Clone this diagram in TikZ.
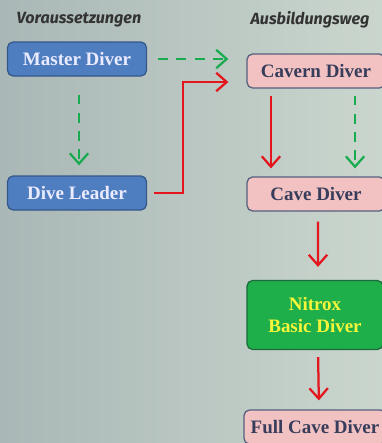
\documentclass[tikz,border=0pt]{standalone}
\usepackage{fontspec}
\setmainfont{Liberation Serif}
\setsansfont{Fira Sans}
\usetikzlibrary{arrows.meta}

\definecolor{bgleft}{HTML}{A9B7B6}
\definecolor{bgright}{HTML}{CAD6CD}
\definecolor{prefill}{HTML}{4F7EC0}
\definecolor{preedge}{HTML}{34578A}
\definecolor{pathfill}{HTML}{F2C2C3}
\definecolor{pathedge}{HTML}{55607E}
\definecolor{pathtext}{HTML}{373D5A}
\definecolor{nitrofill}{HTML}{1EAE4A}
\definecolor{nitroedge}{HTML}{1D6B3C}
\definecolor{nitrotext}{HTML}{F5F53A}
\definecolor{arrred}{HTML}{E3151D}
\definecolor{arrgreen}{HTML}{19AB4F}

\tikzset{
  header/.style={font=\sffamily\bfseries\itshape\fontsize{11.5}{13}\selectfont, text=black!80},
  course/.style={rounded corners=4pt, line width=0.9pt, minimum height=0.85cm,
    font=\bfseries\fontsize{13.5}{15.5}\selectfont, align=center, inner sep=2pt},
  pre/.style={course, fill=prefill, draw=preedge, text=white!92!blue, minimum width=3.475cm},
  path/.style={course, fill=pathfill, draw=pathedge, text=pathtext, minimum width=3.45cm},
  nitro/.style={course, fill=nitrofill, draw=nitroedge, text=nitrotext,
    minimum width=3.4cm, minimum height=1.725cm},
  redarrow/.style={draw=arrred, line width=1.6pt, -{Straight Barb[length=2.6mm,width=4.6mm]}},
  greenarrow/.style={draw=arrgreen, line width=1.6pt, dash pattern=on 7pt off 6pt,
    -{Straight Barb[length=2.6mm,width=4.6mm]}},
}

\begin{document}
\begin{tikzpicture}[x=0.025cm, y=-0.025cm]
    \begin{scope}
    \clip (0,0) rectangle (382,443);
    \shade[left color=bgleft, right color=bgright] (0,0) rectangle (382,443);

    % Spaltenkoepfe
    \node[header] (hpre) at (79,20) {Voraussetzungen};
    \node[header] (hway) at (310,20) {Ausbildungsweg};

    % Voraussetzungen
    \node[pre] (master) at (77,59) {Master Diver};
    \node[pre] (leader) at (77,193) {Dive Leader};

    % Ausbildungsweg
    \node[path] (cavern) at (316,71) {Cavern Diver};
    \node[path] (cave) at (316,194) {Cave Diver};
    \node[nitro] (nitrox) at (315,315) {Nitrox\\Basic Diver};
    \node[path, minimum width=3.55cm] (fullcave) at (315,427) {Full Cave Diver};

    % Verbindungen
    \draw[greenarrow, shorten <=0.275cm, shorten >=0.45cm] (master.east) -- (master.east -| cavern.west);
    \draw[greenarrow, shorten <=0.45cm, shorten >=0.25cm] ([xshift=0.05cm]master.south) -- ([xshift=0.05cm]leader.north);
    \draw[redarrow, shorten <=0.175cm, shorten >=0.45cm] (leader.east) -- ++(36,0) |- ([yshift=-0.275cm]cavern.west);
    \draw[redarrow, shorten <=0.175cm, shorten >=0.2cm] ([xshift=-1.125cm]cavern.south) -- ([xshift=-1.125cm]cave.north);
    \draw[greenarrow, shorten <=0.175cm, shorten >=0.2cm] ([xshift=0.975cm]cavern.south) -- ([xshift=0.975cm]cave.north);
    \draw[redarrow, shorten <=0.25cm, shorten >=0.325cm] ([xshift=0.05cm]cave.south) -- ([xshift=0.075cm]nitrox.north);
    \draw[redarrow, shorten <=0.175cm, shorten >=0.225cm] ([xshift=0.075cm]nitrox.south) -- ([xshift=0.1cm]fullcave.north);
    \end{scope}
    \useasboundingbox (0,0) rectangle (382,443);
\end{tikzpicture}
\end{document}
